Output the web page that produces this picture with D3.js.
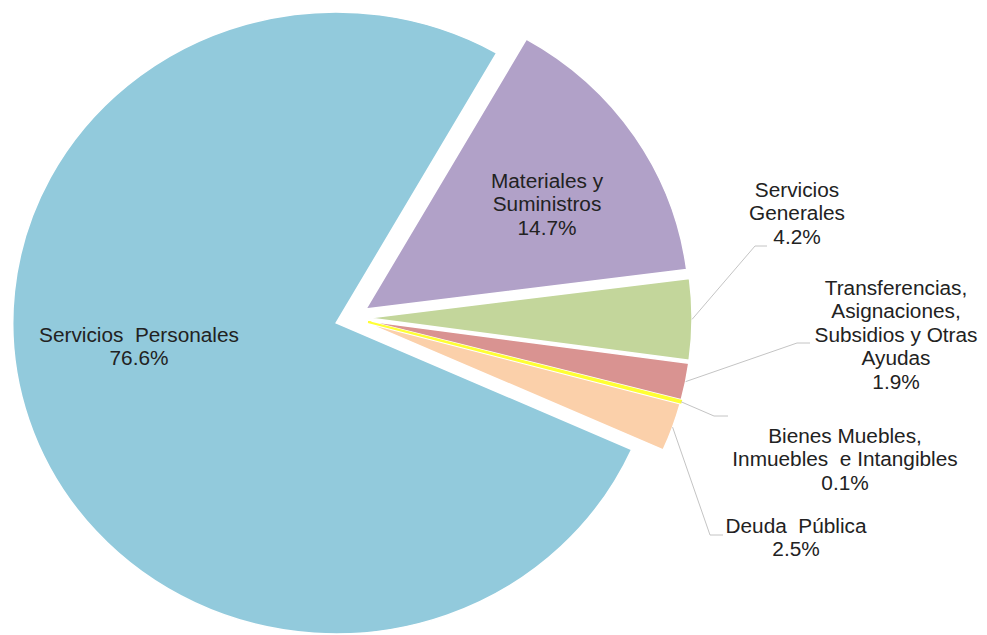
<!DOCTYPE html>
<html>
<head>
<meta charset="utf-8">
<script src="https://cdn.jsdelivr.net/npm/d3@7"></script>
<style>
  body { margin: 0; background: #fff; }
  text { font-family: "Liberation Sans", Arial, sans-serif; font-size: 20px; fill: #222; white-space: pre; }
</style>
</head>
<body>
<div id="chart"></div>
<script>
// data
const categories = [
  'Servicios Personales',
  'Materiales y Suministros',
  'Servicios Generales',
  'Transferencias, Asignaciones, Subsidios y Otras Ayudas',
  'Bienes Muebles, Inmuebles e Intangibles',
  'Deuda Pública'
]
const shares = [76.6, 14.7, 4.2, 1.9, 0.1, 2.5]
const labelLines = [
  ['Servicios  Personales'],
  ['Materiales y', 'Suministros'],
  ['Servicios', 'Generales'],
  ['Transferencias,', 'Asignaciones,', 'Subsidios y Otras', 'Ayudas'],
  ['Bienes Muebles,', 'Inmuebles  e Intangibles'],
  ['Deuda  Pública']
]
const colors = ['#92cadc', '#b1a1c8', '#c3d69b', '#d99391', '#ffff33', '#fbd0aa']

// layout of the labels (x centre, first baseline) and leader lines
const labelPos = [[139, 342], [547, 188], [797, 197], [896, 295], [845, 443], [796, 533]]
const leaders = [null, null, { elbow: [755, 246], endX: 767 }, { elbow: [797, 343], endX: 810 },
  { elbow: [714, 416], endX: 728 }, { elbow: [710, 535], endX: 723 }]

const width = 987
const height = 635
const cx = 352, cy = 318, R = 311, sx = 1.04, explode = 16
const start = 114 * Math.PI / 180

const svg = d3.select('#chart')
  .append('svg')
  .attr('width', width)
  .attr('height', height)

const pie = d3.pie().sort(null).value(d => d).startAngle(start).endAngle(start + 2 * Math.PI)
const arcs = pie(shares)
const arc = d3.arc().innerRadius(0).outerRadius(R)
const mid = d => (d.startAngle + d.endAngle) / 2

const g = svg.append('g')
  .attr('transform', `translate(${cx},${cy}) scale(${sx},1)`)

// tiny slice drawn last, outlined in its own colour so it stays visible
const order = arcs.map((d, i) => i).sort((a, b) => shares[b] - shares[a])

g.selectAll('path')
  .data(order.map(i => ({ d: arcs[i], i })))
  .join('path')
  .attr('d', o => arc(o.d))
  .attr('transform', o => `translate(${explode * Math.sin(mid(o.d))},${-explode * Math.cos(mid(o.d))})`)
  .attr('fill', o => colors[o.i])
  .attr('stroke', o => shares[o.i] < 0.5 ? colors[o.i] : '#fff')
  .attr('stroke-width', o => shares[o.i] < 0.5 ? 2 : 1.5)
  .attr('vector-effect', 'non-scaling-stroke')

// leader lines
arcs.forEach((d, i) => {
  const l = leaders[i]
  if (!l) return
  const a = mid(d)
  const p0 = [cx + sx * (explode + R) * Math.sin(a), cy - (explode + R) * Math.cos(a)]
  svg.append('polyline')
    .attr('points', [p0, l.elbow, [l.endX, l.elbow[1]]].map(p => p.join(',')).join(' '))
    .attr('fill', 'none')
    .attr('stroke', '#c4c4c4')
    .attr('stroke-width', 1)
})

// labels
const lineH = 23.5
arcs.forEach((d, i) => {
  const [x, y] = labelPos[i]
  const t = svg.append('g')
    .attr('transform', `translate(${x},${y}) scale(${sx},1)`)
    .append('text')
    .attr('text-anchor', 'middle')
  const lines = labelLines[i].concat([shares[i].toFixed(1) + '%'])
  lines.forEach((s, j) => {
    t.append('tspan').attr('x', 0).attr('y', j * lineH).text(s)
  })
})
</script>
</body>
</html>
